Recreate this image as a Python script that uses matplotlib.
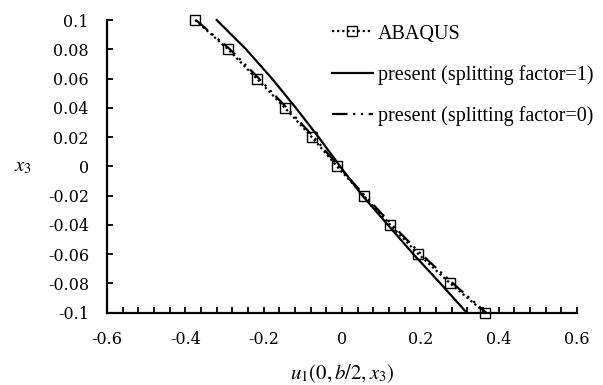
import matplotlib
matplotlib.use("Agg")
import matplotlib.pyplot as plt
from matplotlib.ticker import MultipleLocator

plt.rcParams['font.family'] = ['Liberation Serif', 'DejaVu Serif']
plt.rcParams['mathtext.fontset'] = 'stix'

x3 = [0.1, 0.08, 0.06, 0.04, 0.02, 0.0, -0.02, -0.04, -0.06, -0.08, -0.1]
abaqus = [-0.375, -0.291, -0.218, -0.146, -0.077, -0.013, 0.055, 0.123, 0.195, 0.276, 0.365]
present_sf1 = [-0.320, -0.245, -0.179, -0.118, -0.060, -0.005, 0.052, 0.117, 0.182, 0.251, 0.318]
present_sf0 = [-0.373, -0.286, -0.212, -0.141, -0.072, -0.009, 0.058, 0.128, 0.202, 0.283, 0.368]

xticks = [-0.6, -0.4, -0.2, 0, 0.2, 0.4, 0.6]
xticklabels = ['-0.6', '-0.4', '-0.2', '0', '0.2', '0.4', '0.6']
yticks = [0.1, 0.08, 0.06, 0.04, 0.02, 0, -0.02, -0.04, -0.06, -0.08, -0.1]
yticklabels = ['0.1', '0.08', '0.06', '0.04', '0.02', '0', '-0.02', '-0.04', '-0.06', '-0.08', '-0.1']

fig = plt.figure(figsize=(6.03, 3.85), dpi=100)
ax = fig.add_axes([0.1774, 0.188, 0.957 - 0.1774, 0.948 - 0.188])

ax.plot(abaqus, x3, color='black', linestyle=(0, (1, 1.3)), lw=1.6,
        marker='s', markersize=6.5, markerfacecolor='none', markeredgewidth=1.0,
        clip_on=False, label='ABAQUS', zorder=3)
ax.plot(present_sf1, x3, color='black', linestyle='-', lw=1.6,
        clip_on=False, label='present (splitting factor=1)')
ax.plot(present_sf0, x3, color='black', linestyle=(0, (7, 2.5, 1, 2.5, 1, 2.5)), lw=1.6,
        clip_on=False, label='present (splitting factor=0)')

ax.set_xlim(-0.6, 0.6)
ax.set_ylim(-0.1, 0.1)
ax.set_xticks(xticks)
ax.set_xticklabels(xticklabels, family='DejaVu Serif')
ax.set_yticks(yticks)
ax.set_yticklabels(yticklabels, family='DejaVu Serif')
ax.xaxis.set_minor_locator(MultipleLocator(0.04))

for s in ['top', 'right']:
    ax.spines[s].set_visible(False)
for s in ['left', 'bottom']:
    ax.spines[s].set_linewidth(1.6)
    ax.spines[s].set_color('black')

ax.tick_params(axis='both', which='major', direction='in', length=4.5, width=1.3,
               labelsize=11.5, pad=13)
ax.tick_params(axis='x', which='minor', direction='in', length=4.5, width=1.3)

ax.set_xlabel(r'$u_1(0,b/2,x_3)$', fontsize=15, va='center')
ax.xaxis.set_label_coords(0.5, -0.207)
ax.set_ylabel(r'$x_3$', fontsize=15, rotation=0, va='center', ha='center')
ax.yaxis.set_label_coords(-0.178, 0.5)

leg = ax.legend(loc='upper left', bbox_to_anchor=(0.478, 0.985), frameon=False,
                fontsize=14.5, handlelength=2.05, handletextpad=0.25, labelspacing=1.05,
                borderaxespad=0, borderpad=0)

fig.savefig('out.png', dpi=100)
